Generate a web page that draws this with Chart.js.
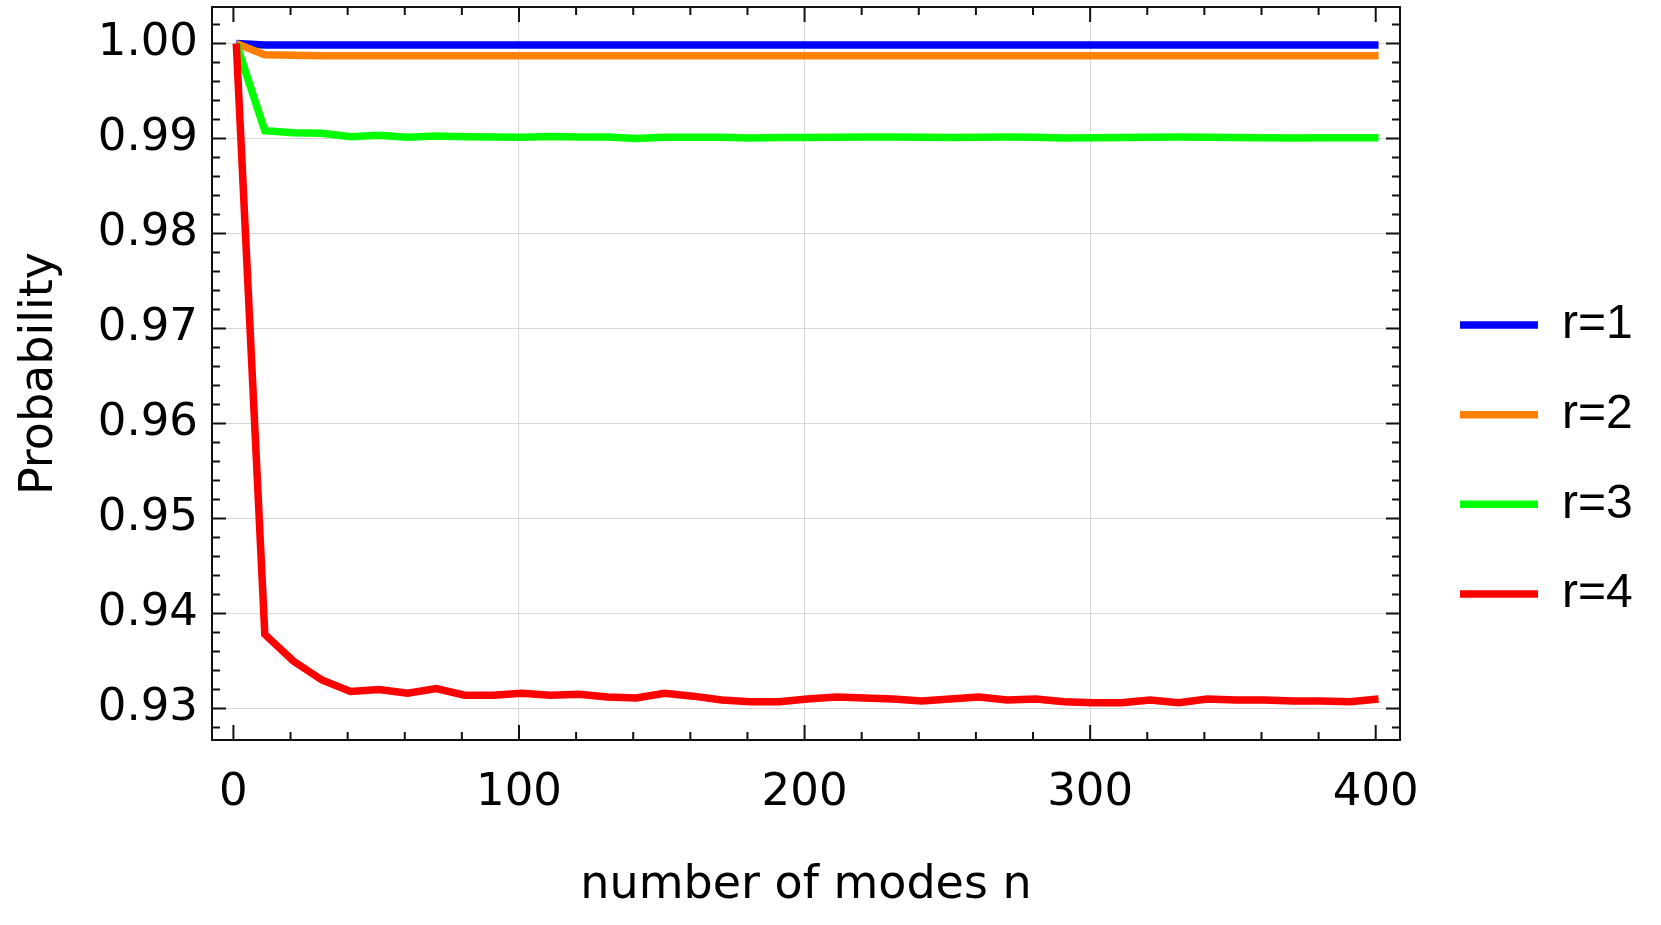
<!DOCTYPE html>
<html>
<head>
<meta charset="utf-8">
<script src="https://cdn.jsdelivr.net/npm/chart.js@4.4.1/dist/chart.umd.min.js"></script>
<style>
  html, body { margin: 0; padding: 0; background: #ffffff; }
  #wrap { width: 1661px; height: 925px; }
</style>
</head>
<body>
<div id="wrap"><canvas id="c" width="1661" height="925"></canvas></div>
<script>
// ---- data ----
const seriesNames = ['r=1', 'r=2', 'r=3', 'r=4'];
const seriesColors = ['#0000ff', '#ff8000', '#00ff00', '#ff0000'];

const modes = [1, 11, 21, 31, 41, 51, 61, 71, 81, 91,
               101, 111, 121, 131, 141, 151, 161, 171, 181, 191,
               201, 211, 221, 231, 241, 251, 261, 271, 281, 291,
               301, 311, 321, 331, 341, 351, 361, 371, 381, 391, 401];

const probR1 = [1.0, 0.99985, 0.99985, 0.99985, 0.99985, 0.99985, 0.99985, 0.99985, 0.99985, 0.99985,
                0.99985, 0.99985, 0.99985, 0.99985, 0.99985, 0.99985, 0.99985, 0.99985, 0.99985, 0.99985,
                0.99985, 0.99985, 0.99985, 0.99985, 0.99985, 0.99985, 0.99985, 0.99985, 0.99985, 0.99985,
                0.99985, 0.99985, 0.99985, 0.99985, 0.99985, 0.99985, 0.99985, 0.99985, 0.99985, 0.99985, 0.99985];

const probR2 = [1.0, 0.99882, 0.99875, 0.99872, 0.99871, 0.99871, 0.99870, 0.99870, 0.99870, 0.99870,
                0.99870, 0.99870, 0.99870, 0.99870, 0.99870, 0.99870, 0.99870, 0.99870, 0.99870, 0.99870,
                0.99870, 0.99870, 0.99870, 0.99870, 0.99870, 0.99870, 0.99870, 0.99870, 0.99870, 0.99870,
                0.99870, 0.99870, 0.99870, 0.99870, 0.99870, 0.99870, 0.99870, 0.99870, 0.99870, 0.99870, 0.99870];

const probR3 = [1.0, 0.99082, 0.99061, 0.99054, 0.99019, 0.99035, 0.99012, 0.99026, 0.99019, 0.99016,
                0.99013, 0.99022, 0.99015, 0.99015, 0.99000, 0.99013, 0.99013, 0.99013, 0.99005, 0.99010,
                0.99010, 0.99013, 0.99015, 0.99015, 0.99013, 0.99010, 0.99012, 0.99015, 0.99012, 0.99005,
                0.99008, 0.99010, 0.99012, 0.99015, 0.99012, 0.99010, 0.99008, 0.99005, 0.99008, 0.99008, 0.99008];

const probR4 = [1.0, 0.9378, 0.9350, 0.9330, 0.9318, 0.9320, 0.9316, 0.9321, 0.9314, 0.9314,
                0.9316, 0.9314, 0.9315, 0.9312, 0.9311, 0.9316, 0.9313, 0.9309, 0.9307, 0.9307,
                0.9310, 0.9312, 0.9311, 0.9310, 0.9308, 0.9310, 0.9312, 0.9309, 0.9310, 0.9307,
                0.9306, 0.9306, 0.9309, 0.9306, 0.9310, 0.9309, 0.9309, 0.9308, 0.9308, 0.9307, 0.9310];

const xTickValues = [0, 100, 200, 300, 400];
const yTickValues = [0.93, 0.94, 0.95, 0.96, 0.97, 0.98, 0.99, 1.00];
const xMinorTickValues = [0, 20, 40, 60, 80, 100, 120, 140, 160, 180, 200,
                          220, 240, 260, 280, 300, 320, 340, 360, 380, 400];
const yMinorTickValues = [0.928, 0.930, 0.932, 0.934, 0.936, 0.938, 0.940, 0.942, 0.944, 0.946,
                          0.948, 0.950, 0.952, 0.954, 0.956, 0.958, 0.960, 0.962, 0.964, 0.966,
                          0.968, 0.970, 0.972, 0.974, 0.976, 0.978, 0.980, 0.982, 0.984, 0.986,
                          0.988, 0.990, 0.992, 0.994, 0.996, 0.998, 1.000, 1.002];

const xTitle = 'number of modes n';
const yTitle = 'Probability';

// ---- chart ----
const allSeries = [probR1, probR2, probR3, probR4];
const datasets = allSeries.map((vals, i) => ({
  label: seriesNames[i],
  data: modes.map((m, k) => ({ x: m, y: vals[k] })),
  borderColor: seriesColors[i],
  backgroundColor: seriesColors[i],
  borderWidth: 7.5,
  pointRadius: 0,
  pointHoverRadius: 0,
  fill: false,
  tension: 0,
  order: allSeries.length - i
}));

const tickFont = { family: "'DejaVu Sans', sans-serif", size: 45 };
const gridGray = '#d6d6d6';

const frameTicks = {
  id: 'frameTicks',
  afterDatasetsDraw(chart) {
    const { ctx, chartArea: a, scales } = chart;
    const x = scales.x, y = scales.y;
    ctx.save();
    ctx.strokeStyle = '#111111';
    ctx.lineWidth = 2;
    ctx.lineCap = 'butt';
    ctx.beginPath();
    xMinorTickValues.forEach(v => {
      const p = x.getPixelForValue(v);
      const L = (v % 100 === 0) ? 15 : 8;
      ctx.moveTo(p, a.bottom); ctx.lineTo(p, a.bottom - L);
      ctx.moveTo(p, a.top); ctx.lineTo(p, a.top + L);
    });
    yMinorTickValues.forEach(v => {
      const p = y.getPixelForValue(v);
      const L = (Math.round(v * 1000) % 10 === 0) ? 14 : 8;
      ctx.moveTo(a.left, p); ctx.lineTo(a.left + L, p);
      ctx.moveTo(a.right, p); ctx.lineTo(a.right - L, p);
    });
    ctx.stroke();
    ctx.strokeRect(a.left, a.top, a.right - a.left, a.bottom - a.top);
    ctx.restore();
  }
};

new Chart(document.getElementById('c'), {
  type: 'line',
  data: { datasets },
  plugins: [frameTicks],
  options: {
    responsive: false,
    devicePixelRatio: 1,
    animation: false,
    events: [],
    layout: { padding: { left: 0, top: 0, right: 18.3, bottom: 6 } },
    plugins: {
      tooltip: { enabled: false },
      legend: {
        display: true,
        position: 'right',
        align: 'center',
        labels: {
          usePointStyle: true,
          pointStyle: 'line',
          pointStyleWidth: 78,
          padding: 41.6,
          color: '#000000',
          font: { family: "'Liberation Sans', Arial, sans-serif", size: 48 },
          sort: (a, b) => a.datasetIndex - b.datasetIndex
        }
      }
    },
    scales: {
      x: {
        type: 'linear',
        position: 'bottom',
        min: -7.5,
        max: 408.5,
        afterBuildTicks: s => { s.ticks = xTickValues.map(v => ({ value: v })); },
        afterFit: s => { s.height = 179; s.paddingLeft = 0; s.paddingRight = 0; },
        ticks: {
          autoSkip: false,
          maxRotation: 0,
          padding: 26,
          color: '#000000',
          font: tickFont,
          callback: v => Number(v).toFixed(0)
        },
        grid: {
          drawTicks: false,
          lineWidth: 1,
          color: c => (c.tick && c.tick.value > 0 && c.tick.value < 400) ? gridGray : 'rgba(0,0,0,0)'
        },
        border: { display: false },
        title: {
          display: true,
          text: xTitle,
          color: '#000000',
          font: { family: "'DejaVu Sans', sans-serif", size: 46 },
          padding: { top: 0, bottom: 5 }
        }
      },
      y: {
        type: 'linear',
        position: 'left',
        min: 0.926684,
        max: 1.003842,
        afterBuildTicks: s => { s.ticks = yTickValues.map(v => ({ value: v })); },
        afterFit: s => { s.width = 212; s.paddingTop = 7; s.paddingBottom = 0; },
        ticks: {
          autoSkip: false,
          padding: 14,
          color: '#000000',
          font: tickFont,
          callback: v => Number(v).toFixed(2)
        },
        grid: {
          drawTicks: false,
          lineWidth: 1,
          color: gridGray
        },
        border: { display: false },
        title: {
          display: true,
          text: yTitle,
          color: '#000000',
          font: { family: "'DejaVu Sans', sans-serif", size: 46 },
          padding: { top: 12, bottom: 0 }
        }
      },
      yR: {
        type: 'linear',
        position: 'right',
        display: true,
        min: 0,
        max: 1,
        afterFit: s => { s.width = 18.4; s.paddingTop = 0; s.paddingBottom = 0; },
        ticks: { display: false },
        grid: { display: false, drawTicks: false },
        border: { display: false }
      }
    }
  }
});
</script>
</body>
</html>
